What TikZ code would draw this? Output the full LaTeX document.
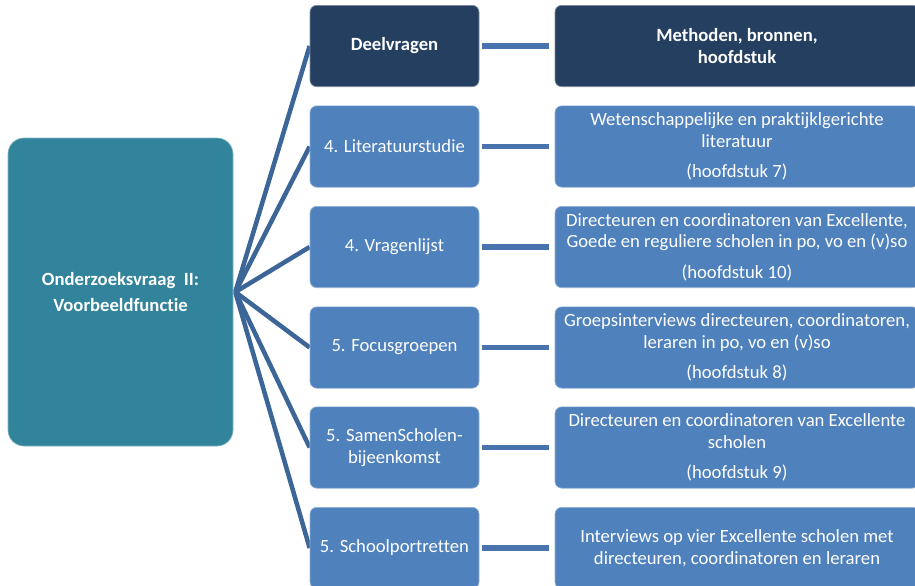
\documentclass[tikz,border=0pt]{standalone}
\usepackage{fontspec}
\setmainfont{Carlito}[Ligatures=NoCommon]
\usetikzlibrary{backgrounds}
\definecolor{teal}{HTML}{31849B}
\definecolor{darkbox}{HTML}{243F60}
\definecolor{midbox}{HTML}{4F81BD}
\definecolor{fanline}{HTML}{3D6698}
\definecolor{hline}{HTML}{4873AD}
\begin{document}
\begin{tikzpicture}[x=0.75pt,y=-0.75pt,
  every node/.style={font=\fontsize{14}{16.2}\selectfont, text=white, inner sep=0pt},
  mainbox/.style={fill=teal, draw=teal!60!white, line width=0.5pt, rounded corners=12pt,
    minimum width=168.75pt, minimum height=231pt, align=center, font=\fontsize{14}{19.5}\selectfont\bfseries},
  midbox/.style={fill=#1, draw=#1!60!white, line width=0.5pt, rounded corners=5pt,
    minimum width=126.75pt, minimum height=61pt, align=center},
  rightbox/.style={fill=#1, draw=#1!60!white, line width=0.5pt, rounded corners=5pt,
    minimum width=273pt, minimum height=61pt, align=center},
  boldtext/.style={font=\fontsize{14}{16.2}\selectfont\bfseries},
  fan/.style={draw=fanline, line width=3.4pt},
  link/.style={draw=hline, line width=3.8pt, shorten <=2.25pt, shorten >=4.5pt}
]
\useasboundingbox (0,0) rectangle (915,586);
\clip (0,0) rectangle (915,586);

\node[mainbox] (main) at (120.5,292) {Onderzoeksvraag\ \ II:\\Voorbeeldfunctie};

\node[midbox=darkbox, boldtext] (m1) at (394.5,46) {Deelvragen};
\node[midbox=midbox] (m2) at (394.5,146.5) {4. Literatuurstudie};
\node[midbox=midbox] (m3) at (394.5,247) {4. Vragenlijst};
\node[midbox=midbox] (m4) at (394.5,347.5) {5. Focusgroepen};
\node[midbox=midbox] (m5) at (394.5,447.5) {5. SamenScholen-\\bijeenkomst};
\node[midbox=midbox] (m6) at (394.5,548) {5. Schoolportretten};

\node[rightbox=darkbox, boldtext] (r1) at (737,46) {Methoden, bronnen,\\hoofdstuk};
\node[rightbox=midbox] (r2) at (737,146.5) {Wetenschappelijke en praktijklgerichte\\literatuur\\[6.5pt](hoofdstuk 7)};
\node[rightbox=midbox] (r3) at (737,247) {Directeuren en coordinatoren van Excellente,\\Goede en reguliere scholen in po, vo en (v)so\\[6.5pt](hoofdstuk 10)};
\node[rightbox=midbox] (r4) at (737,347.5) {Groepsinterviews directeuren, coordinatoren,\\leraren in po, vo en (v)so\\[6.5pt](hoofdstuk 8)};
\node[rightbox=midbox] (r5) at (737,447.5) {Directeuren en coordinatoren van Excellente\\scholen\\[6.5pt](hoofdstuk 9)};
\node[rightbox=midbox] (r6) at (737,548) {Interviews op vier Excellente scholen met\\directeuren, coordinatoren en leraren};

\begin{scope}[on background layer]
\foreach \i in {1,...,6}{
  \draw[fan] ([xshift=1.5pt]main.east) -- (m\i.west);
  \draw[link] (m\i.east) -- (r\i.west);
}
\end{scope}
\end{tikzpicture}
\end{document}
